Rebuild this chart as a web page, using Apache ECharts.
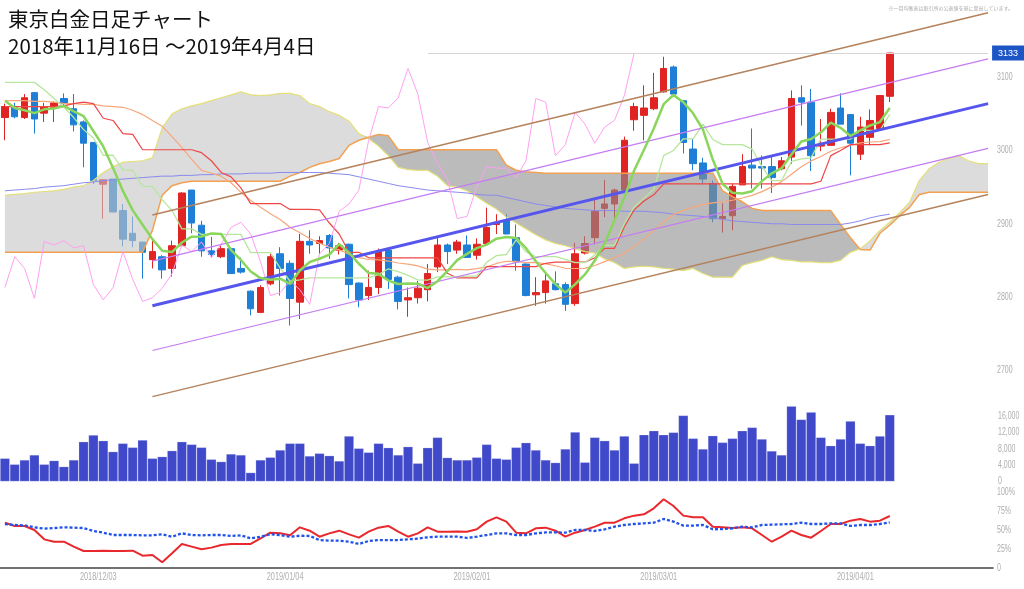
<!DOCTYPE html>
<html><head><meta charset="utf-8">
<script src="https://cdn.jsdelivr.net/npm/echarts@6/dist/echarts.min.js"></script>
<style>html,body{margin:0;padding:0;background:#fff}#c{width:1024px;height:589px}</style>
</head><body><div id="c"></div>
<script>
// ---------- data ----------
const dates = ['2018/11/16','2018/11/19','2018/11/20','2018/11/21','2018/11/22','2018/11/26','2018/11/27','2018/11/28','2018/11/29','2018/11/30',
'2018/12/03','2018/12/04','2018/12/05','2018/12/06','2018/12/07','2018/12/10','2018/12/11','2018/12/12','2018/12/13','2018/12/14',
'2018/12/17','2018/12/18','2018/12/19','2018/12/20','2018/12/21','2018/12/25','2018/12/26','2018/12/27','2018/12/28','2019/01/04',
'2019/01/07','2019/01/08','2019/01/09','2019/01/10','2019/01/11','2019/01/15','2019/01/16','2019/01/17','2019/01/18','2019/01/21',
'2019/01/22','2019/01/23','2019/01/24','2019/01/25','2019/01/28','2019/01/29','2019/01/30','2019/01/31','2019/02/01','2019/02/04',
'2019/02/05','2019/02/06','2019/02/07','2019/02/08','2019/02/12','2019/02/13','2019/02/14','2019/02/15','2019/02/18','2019/02/19',
'2019/02/20','2019/02/21','2019/02/22','2019/02/25','2019/02/26','2019/02/27','2019/02/28','2019/03/01','2019/03/04','2019/03/05',
'2019/03/06','2019/03/07','2019/03/08','2019/03/11','2019/03/12','2019/03/13','2019/03/14','2019/03/15','2019/03/18','2019/03/19',
'2019/03/20','2019/03/22','2019/03/25','2019/03/26','2019/03/27','2019/03/28','2019/03/29','2019/04/01','2019/04/02','2019/04/03',
'2019/04/04'];
const futureSlots = ['','','','','','','','','',''];
const xTickLabels = ['2018/12/03','2019/01/04','2019/02/01','2019/03/01','2019/04/01'];
const priceTicks = [2700, 2800, 2900, 3000, 3100];
const volumeTicks = [0, 4000, 8000, 12000, 16000];
const oscTicks = [0, 25, 50, 75, 100];

const opens = [3045,3059,3045,3079,3051,3059,3071,3057,3039,3011,
2954,2961,2918,2887,2875,2851,2855,2839,2870,2946,
2898,2863,2855,2866,2839,2808,2779,2818,2859,2846,
2793,2876,2873,2884,2864,2872,2819,2802,2813,2864,
2827,2796,2799,2810,2841,2871,2864,2871,2857,2873,
2899,2905,2881,2845,2803,2806,2818,2817,2791,2860,
2881,2921,2927,2946,3042,3048,3057,3080,3114,3068,
3002,2983,2955,2907,2911,2953,2980,2978,2978,2975,
2991,3072,3066,3006,3007,3058,3049,2995,3018,3030,
3074];
const closes = [3060,3046,3072,3043,3060,3065,3064,3035,3010,2959,
2960,2916,2879,2877,2861,2862,2837,2870,2942,2901,
2863,2858,2866,2832,2834,2784,2813,2855,2839,2798,
2876,2871,2877,2867,2870,2817,2796,2813,2862,2824,
2794,2799,2812,2832,2871,2862,2875,2854,2872,2895,
2902,2886,2848,2802,2806,2822,2810,2790,2859,2873,
2917,2927,2946,3014,3060,3058,3072,3112,3077,3011,
2982,2961,2907,2910,2951,2978,2976,2976,2963,2986,
3071,3066,2993,3008,3052,3036,3010,3032,3041,3075,
3133];
const lows = [3014,3044,3043,3023,3039,3039,3060,3026,2977,2954,
2907,2916,2869,2868,2825,2839,2825,2828,2869,2887,
2855,2854,2853,2832,2832,2775,2778,2816,2802,2761,
2770,2859,2859,2852,2858,2798,2786,2796,2804,2811,
2783,2773,2791,2794,2834,2845,2859,2854,2851,2870,
2886,2886,2836,2801,2788,2791,2809,2781,2788,2858,
2872,2909,2904,2944,3027,3014,3055,3079,3075,2996,
2973,2954,2902,2888,2891,2953,2948,2948,2942,2973,
2982,3034,2972,2999,3007,3036,2966,2987,3007,3027,
3066];
const highs = [3064,3065,3077,3080,3065,3067,3078,3077,3041,3011,
2961,2961,2927,2910,2875,2877,2857,2877,2943,2946,
2904,2882,2870,2868,2854,2809,2816,2859,2868,2850,
2886,2891,2883,2886,2874,2873,2820,2836,2866,2865,
2829,2813,2822,2845,2882,2873,2878,2884,2880,2922,
2913,2913,2899,2846,2827,2832,2835,2820,2874,2883,
2934,2960,2948,3019,3065,3089,3106,3128,3116,3068,
3016,2990,2959,2928,2955,2995,3030,2993,2992,2991,
3082,3089,3084,3043,3057,3078,3050,3046,3056,3075,
3133];
const volumes = [5680,4220,5280,6500,4220,5120,3650,5280,9740,11370,
9990,7310,9340,8360,10150,5680,6090,7550,9740,9090,
8360,5440,4870,6740,6500,2190,5280,5930,7710,9340,
9340,6250,6900,6330,5030,11120,8120,7150,9340,8280,
6500,8530,4470,8280,10800,5850,5280,5280,5930,9090,
5680,5440,8360,9500,7710,5280,4630,7960,12100,4710,
10800,9990,7710,11120,4470,11450,12420,11450,12020,16160,
10560,7960,11210,9580,10560,12420,13240,10390,7470,6500,
18430,15180,16970,10800,8770,10390,14780,9340,8770,11120,
16320];
const oscRed = [59.6,55.3,55.3,50,37.7,34.6,34.6,28.1,22.4,22.4,
22.8,22.4,22.4,22.8,16.2,17.1,7.5,19.3,31.6,28.1,
24.6,26.8,30.3,31.6,31.6,31.6,39,46.5,45.6,43,
53.5,49.1,41.2,45.6,49.1,44.3,39.9,47.8,53.1,55.3,
47.8,41.2,45.6,53.5,47.8,47.8,48,47.8,50.9,61,
66.7,61,46.5,45.6,52.2,53.1,49.1,41.2,46.5,50,
54.4,59.6,59.6,65.4,68.9,70.6,78.5,90.4,81.6,68.9,
66.7,66.7,54.4,53.5,52.6,53.5,52.2,43.4,34.6,41.2,
49.1,43.4,39.9,48.7,57.9,57.9,62.3,64.5,61,62.3,
68.4];
const oscBlue = [57.9,56.6,56.1,53.5,51.8,52.6,53.5,53.1,52.6,48.7,
46.5,43.4,43.4,43.4,43,43,44.3,41.2,45.6,43.4,
43,43.4,43.4,42.1,43,39,41.2,44.3,43.4,41.2,
42.5,42.1,36.8,36,36,34.6,31.6,35.5,36.8,36.8,
36.8,37.7,38.6,40.4,41.2,41.2,41.2,39.5,41.2,43.4,
45.6,45.6,43.4,43.4,45.6,46.9,46.9,46.5,50,50,
48.7,50.9,54.4,56.6,57.9,58.8,59.6,64.5,61,55.7,
55.7,56.6,50.9,51.3,52.2,54.4,53.5,56.6,57,57.5,
57.9,59.6,57.9,57.9,58.8,58.8,55.3,56.6,56.6,57.9,
60.1];
const sma5 = [3068,3058,3055,3051,3056.2,3057.2,3060.8,3053.4,3046.8,3026.6,
3005.6,2976,2944.8,2918.2,2898.6,2879,2863.2,2861.4,2874.4,2882.4,
2882.6,2886.8,2886,2864,2850.6,2834.8,2825.8,2823.6,2825,2817.8,
2836.2,2847.8,2852.2,2857.8,2872.2,2860.4,2845.4,2832.6,2831.6,2822.4,
2817.8,2818.4,2818.2,2812.2,2821.6,2835.2,2850.4,2858.8,2866.8,2871.6,
2879.6,2881.8,2880.6,2866.6,2848.8,2832.8,2817.6,2806,2817.4,2830.8,
2849.8,2873.2,2904.4,2935.4,2972.8,3001,3030,3063.2,3075.8,3066,
3050.8,3028.6,2987.6,2954.2,2942.2,2941.4,2944.4,2958.2,2968.8,2975.8,
2994.4,3012.4,3015.8,3024.8,3038,3031,3019.8,3027.6,3034.2,3038.8,
3058.2];
const sma25 = [3068,3068,3068,3067,3067,3066,3064,3064,3063,3063,
3061,3060,3059,3055,3049,3041,3033,3019,3004,2988,
2973,2969,2965,2956,2942.9,2931.8,2922.5,2913.8,2905.7,2895.2,
2887.6,2879.9,2873.6,2867.9,2864.3,2858.6,2853.8,2851.2,2850.6,2849.1,
2846.4,2844.8,2842.5,2838.1,2836.9,2836.9,2837.6,2837.1,2838.7,2841.1,
2845.8,2848.8,2848.5,2847,2847.3,2845.2,2842.7,2839.2,2838.9,2839,
2843,2848.3,2853.6,2859.7,2869.1,2879.7,2890.6,2902.6,2912.4,2918,
2922.8,2926.2,2928.4,2929.9,2932.1,2935.2,2938.8,2943.9,2950.3,2957.5,
2967.5,2977.7,2985.8,2991.8,2999,3003.7,3007,3010.5,3011.6,3012.2,
3015.2];
const sma75 = [2945,2946,2947,2948,2950,2951,2952,2954,2956,2957,
2959,2960,2961,2962,2963,2964,2965,2965,2966,2966,
2967,2967,2968,2968,2968,2969,2969,2969,2970,2970,
2970,2970,2970,2969,2968,2967,2964,2961,2958,2955,
2952,2950,2948,2946,2945,2944,2943,2942,2940,2939,
2939,2936,2933,2930,2927,2925,2923,2921,2920,2919,
2918,2918,2918,2917,2917,2917,2916,2915,2913,2912,
2911,2910,2908,2906,2904,2903,2902,2901,2900,2900,
2899,2899,2899,2899,2899,2899,2901,2904,2908,2911,
2913];
const tenkan = [3093,3093,3093,3093,3083,3071,3059,3045,3028.5,3017,
2993.5,2993.5,2973.5,2973,2951.5,2951,2933,2918,2893,2893,
2885.5,2885.5,2885.5,2885.5,2885.5,2860.5,2860.5,2860.5,2839.5,2821.5,
2823.5,2826,2826,2826,2826,2826,2826,2826,2830.5,2838.5,
2834.5,2829.5,2823.5,2823,2827.5,2827.5,2827.5,2828.5,2828.5,2847.5,
2856.5,2858,2878,2861.5,2855,2855,2855,2851.5,2847,2847,
2857.5,2870.5,2870.5,2900,2923,2935,2947,2993,3000,3016,
3016,3036,3015,3008,3008,3008,3002,2978,2959,2959,
2985,2988.5,2990,3015.5,3015.5,3015.5,3015.5,3027.5,3027.5,3027.5,
3049.5];
const kijun = [3060,3060,3060,3060,3060,3060,3061,3064,3066,3064,
3044,3041,3023,3022,3001,3001,3001,3001,3001,3001,
2997,2986,2970,2964,2949,2927.5,2927.5,2927.5,2927.5,2919.5,
2919.5,2919.5,2919,2901,2886,2861,2861,2853.5,2853.5,2853.5,
2853.5,2853.5,2853.5,2853.5,2853.5,2832.5,2826,2826,2826,2841.5,
2841.5,2841.5,2841.5,2841.5,2841.5,2846,2847.5,2847.5,2847.5,2847.5,
2853.5,2866.5,2866.5,2896,2919,2931,2939.5,2954.5,2954.5,2954.5,
2954.5,2954.5,2954.5,2954.5,2954.5,2954.5,2954.5,2954.5,2954.5,2954.5,
2954.5,2954.5,2954.5,2958,2993,3000,3008,3008,3008,3008,
3010.5];
const spanA = [2939,2940,2941,2943,2944,2945,2947,2950,2952,2959,
2970,2978,2984,2985,2986,2990,3031,3050,3057,3061,
3064,3068,3072,3076,3080,3076,3075,3076,3078,3078,
3075,3064,3060,3053,3048,3040,3023,3016,3006,2993,
2977,2974,2973,2973,2965,2952,2950,2945,2937,2928,
2920,2909,2901,2893,2885,2878,2873,2870,2866,2862,
2860,2852,2847,2839,2841,2842,2841,2839,2838,2836,
2839,2832,2827,2827,2827,2843,2847,2850,2855,2851,
2850,2848,2848,2847,2847,2850,2861,2866,2877,2891,
2902,2915,2929,2959,2975,2984,2989,2993,2986,2982,
2982];
const spanB = [2861,2861,2861,2861,2861,2861,2861,2861,2861,2861,
2861,2861,2861,2861,2861,2891,2939,2952,2956,2958,
2958,2958,2958,2958,2958,2958,2958,2958,2958,2965,
2970,2977,2982,2985,2989,3007,3014,3018,3022,3020,
3001,3001,3001,3001,3001,3001,3001,3001,3001,3001,
3001,2980,2973,2971,2970,2969,2969,2969,2969,2969,
2969,2969,2969,2969,2969,2969,2969,2969,2969,2969,
2969,2969,2969,2945,2937,2930,2921,2918,2918,2918,
2918,2918,2918,2918,2918,2899,2881,2865,2864,2887,
2898,2911,2922,2940,2943,2943,2943,2943,2943,2943,
2943];
const chikouShift = 26;
const trendIdx = [15, 100];
const trendCenter = [2788, 3064];
const trendUpper1 = [2849, 3125];
const trendLower1 = [2727, 3003];
const trendUpper2 = [2912, 3188];
const trendLower2 = [2664, 2940];
const lastPrice = 3133;
const lastLineFrom = 43;

// ---------- build ----------
const categories = dates.concat(futureSlots);
const candleData = opens.map((o, i) => [o, closes[i], lows[i], highs[i]]);
const chikou = closes.slice(chikouShift);
const cloudBase = spanA.map((a, i) => Math.min(a, spanB[i]));
const cloudUp = spanA.map((a, i) => Math.max(a - spanB[i], 0));
const cloudDown = spanA.map((a, i) => Math.max(spanB[i] - a, 0));
const seg = (v) => [[trendIdx[0], v[0]], [trendIdx[1], v[1]]];

const SANS = 'Liberation Sans';
const line = (data, color, width, z, extra) => Object.assign({
  type: 'line', data, xAxisIndex: 0, yAxisIndex: 0, showSymbol: false, symbol: 'none',
  silent: true, z, lineStyle: { color, width }, animation: false
}, extra || {});

const chart = echarts.init(document.getElementById('c'), null, { renderer: 'canvas' });
const baseX = (gi, extra) => Object.assign({
  type: 'category', data: categories, gridIndex: gi, boundaryGap: true,
  axisLine: { show: false }, axisTick: { show: false }, axisLabel: { show: false },
  splitLine: { show: false }
}, extra || {});
const baseY = (gi, extra) => Object.assign({
  type: 'value', gridIndex: gi, position: 'right', scale: false,
  axisLine: { show: false }, axisTick: { show: false }, splitLine: { show: false },
  axisLabel: { show: false }
}, extra || {});
const JP = "'Noto Sans CJK JP',sans-serif";

chart.setOption({
  animation: false,
  backgroundColor: '#ffffff',
  title: [
    { text: '東京白金日足チャート', left: 3, top: 4,
      textStyle: { fontFamily: JP, fontSize: 20.5, fontWeight: 'normal', color: '#111' } },
    { text: '2018年11月16日 ～2019年4月4日', left: 3, top: 31,
      textStyle: { fontFamily: JP, fontSize: 20.5, fontWeight: 'normal', color: '#111' } },
    { text: '※一目均衡表は取引所の公表値を基に算出しています。', right: 6, top: 1,
      textStyle: { fontFamily: JP, fontSize: 5, fontWeight: 'normal', color: '#aaa' } }
  ],
  grid: [
    { left: 0, width: 993, top: 4, height: 439.5, containLabel: false, outerBoundsMode: 'none' },
    { left: 0, width: 993, top: 399.7, height: 81.8, containLabel: false, outerBoundsMode: 'none' },
    { left: 0, width: 993, top: 492, height: 95, containLabel: false, outerBoundsMode: 'none' }
  ],
  xAxis: [
    baseX(0), baseX(1),
    baseX(2, { axisLine: { show: true, lineStyle: { color: '#444', width: 1.6 } } })
  ],
  yAxis: [
    baseY(0, { min: 2600, max: 3200, interval: 100 }),
    baseY(1, { min: 0, max: 20000, interval: 4000 }),
    baseY(2, { min: -25, max: 100, interval: 25 })
  ],
  series: [
    { type: 'candlestick', name: '白金', data: candleData, xAxisIndex: 0, yAxisIndex: 0, z: 2,
      barWidth: 7, silent: true,
      itemStyle: { color: '#e02424', color0: '#1f7fd6', borderColor: '#e02424', borderColor0: '#1f7fd6', borderWidth: 1 },
      markLine: {
        symbol: 'none', silent: true, animation: false,
        lineStyle: { color: '#d6d6d6', width: 1, type: 'solid' },
        label: { show: true, position: 'end', distance: 4, formatter: String(lastPrice),
          backgroundColor: '#1d55c6', color: '#fff', padding: [3, 6, 3, 6], fontSize: 9, fontFamily: SANS },
        data: [[{ coord: [lastLineFrom, lastPrice] }, { coord: [categories.length - 1, lastPrice] }]]
      }
    },
    line(cloudBase, 'rgba(0,0,0,0)', 0, 3, { stack: 'cloud', lineStyle: { width: 0, opacity: 0 } }),
    line(cloudUp, 'rgba(0,0,0,0)', 0, 3, { stack: 'cloud', lineStyle: { width: 0, opacity: 0 },
      areaStyle: { color: '#c4c4c4', opacity: 0.6 } }),
    line(cloudDown, 'rgba(0,0,0,0)', 0, 3, { stack: 'cloud', lineStyle: { width: 0, opacity: 0 },
      areaStyle: { color: '#8e8e8e', opacity: 0.6 } }),
    line(spanA, '#e4e07a', 1.2, 4),
    line(spanB, '#f2a052', 1.5, 4),
    line(sma75, '#8a8aee', 1, 5),
    line(sma25, '#f8a67a', 1.2, 5),
    line(kijun, '#f04646', 1.2, 5),
    line(tenkan, '#b6e79c', 1.3, 5),
    line(chikou, '#ffa0f2', 1, 5),
    line(seg(trendUpper2), '#b4825c', 1.5, 6),
    line(seg(trendLower2), '#b4825c', 1.5, 6),
    line(seg(trendUpper1), '#c57cf3', 1.2, 6),
    line(seg(trendLower1), '#c57cf3', 1.2, 6),
    line(seg(trendCenter), '#5656ee', 3, 6),
    line(sma5, '#8ad65c', 2.5, 7),
    { type: 'bar', data: volumes, xAxisIndex: 1, yAxisIndex: 1, barWidth: '100%', barCategoryGap: '0%',
      silent: true, itemStyle: { color: '#4049c9', borderColor: 'rgba(255,255,255,0.35)', borderWidth: 0.6 } },
    { type: 'line', data: oscRed, xAxisIndex: 2, yAxisIndex: 2, showSymbol: false, symbol: 'none', silent: true,
      lineStyle: { color: '#e8282c', width: 2 }, z: 3 },
    { type: 'line', data: oscBlue, xAxisIndex: 2, yAxisIndex: 2, showSymbol: false, symbol: 'none', silent: true,
      lineStyle: { color: '#2152ea', width: 2.3, type: [3, 2] }, z: 4 }
  ]
});

// Axis tick labels drawn as condensed text, positioned through the chart's own axes.
const fmtComma = v => String(v).replace(/\B(?=(\d{3})+(?!\d))/g, ',');
const tickText = (text, x, y, align, size) => ({
  type: 'text', x, y, scaleX: 0.7, silent: true, z: 10,
  style: { text, fill: '#aeaeae', fontSize: size, fontFamily: SANS, align, verticalAlign: 'middle' }
});
const labelX = chart.getWidth() - 27;
const gfx = [];
priceTicks.forEach(v => gfx.push(tickText(String(v), labelX, chart.convertToPixel({ yAxisIndex: 0 }, v), 'left', 10)));
volumeTicks.forEach(v => gfx.push(tickText(fmtComma(v), labelX + 1, chart.convertToPixel({ yAxisIndex: 1 }, v), 'left', 10)));
oscTicks.forEach(v => gfx.push(tickText(v === 0 ? '0' : v + '%', labelX, chart.convertToPixel({ yAxisIndex: 2 }, v), 'left', 10)));
const band = chart.convertToPixel({ xAxisIndex: 2 }, 1) - chart.convertToPixel({ xAxisIndex: 2 }, 0);
xTickLabels.forEach(d => {
  const px = chart.convertToPixel({ xAxisIndex: 2 }, dates.indexOf(d)) - band / 2;
  gfx.push(tickText(d, px, 577, 'center', 10.5));
});
chart.setOption({ graphic: gfx });
</script>
</body></html>
